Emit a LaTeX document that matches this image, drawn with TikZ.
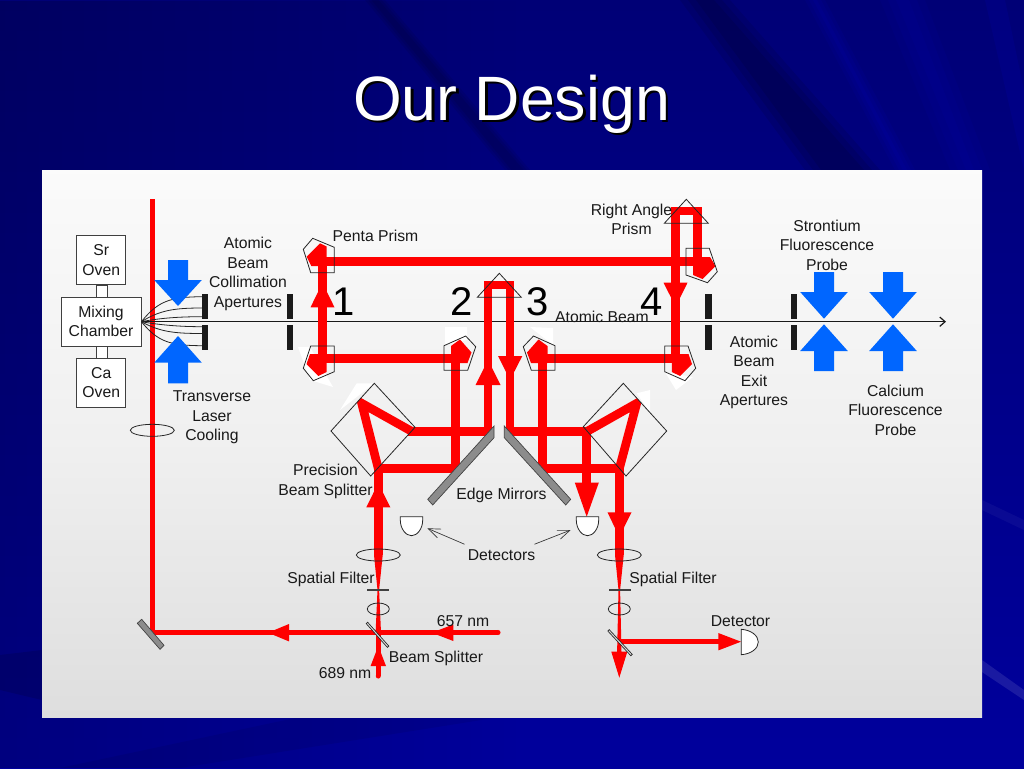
\documentclass[tikz,border=0pt]{standalone}
\usepackage{fontspec}
\setmainfont{Liberation Sans}
\usetikzlibrary{arrows.meta,fadings}
\definecolor{laserred}{RGB}{255,0,0}
\definecolor{probeblue}{RGB}{0,102,255}
\definecolor{slidetop}{RGB}{0,0,118}
\definecolor{slidebot}{RGB}{0,0,156}
\definecolor{apert}{RGB}{26,26,26}
\definecolor{mirrorgray}{RGB}{140,140,140}
\definecolor{edgegray}{RGB}{64,64,64}
\pgfdeclareverticalshading{slideshade}{100bp}{color(0bp)=(slidebot);color(25bp)=(slidebot);color(75bp)=(slidetop);color(100bp)=(slidetop)}
\pgfdeclareverticalshading{panelshade}{100bp}{color(0bp)=(black!14);color(21bp)=(black!14);color(50bp)=(black!6);color(85bp)=(white);color(100bp)=(white)}
\tikzset{
  lbl/.style={font=\fontsize{11.8}{14.6}\selectfont,align=center,inner sep=0pt,text=black!90},
  bignum/.style={font=\fontsize{30}{30}\selectfont,inner sep=0pt,text=black},
  boxnode/.style={draw=edgegray,line width=0.6pt,fill=white,inner sep=0pt,font=\fontsize{11.8}{14.6}\selectfont,align=center,text=black!90},
  beam/.style={draw=laserred,line width=6.5pt},
  thinbeam/.style={draw=laserred,line width=3.5pt},
  redfill/.style={fill=laserred,draw=none},
  blueprobe/.style={fill=probeblue,draw=none},
  prism/.style={draw=black!85,line width=0.6pt},
  lens/.style={draw=black!85,line width=0.6pt},
  aperture/.style={fill=apert,draw=none},
  mirror/.style={fill=mirrorgray,draw=edgegray,line width=0.5pt},
  detector/.style={fill=white,draw=black!85,line width=0.6pt},
  pointer/.style={draw=black!80,line width=0.5pt,-{Straight Barb[length=9pt,width=7pt]}},
  fanline/.style={draw=black!85,line width=0.6pt},
  glow/.style={fill=white,draw=none},
}
\begin{document}
\begin{tikzpicture}[x=0.75pt,y=-0.75pt]
\useasboundingbox (0,0) rectangle (1024,768);
% slide background
\shade[shading=slideshade] (0,0) rectangle (1024,768);
\fill[black,opacity=0.18,path fading=east] (0,0) rectangle (520,768);
\begin{scope}
\clip (0,0) rectangle (1024,768);
\foreach \d in {0,8,16}{
  \fill[black,opacity=0.09] (680+\d,0) -- (730-\d,0) -- (880-\d,170) -- (805+\d,170) -- cycle;
  \fill[black,opacity=0.07] (365+\d*0.4,0) -- (385-\d*0.4,0) -- (530-\d*0.4,170) -- (505+\d*0.4,170) -- cycle;
  \fill[blue,opacity=0.04] (880+\d,0) -- (925-\d,0) -- (990-\d,170) -- (950+\d,170) -- cycle;
  \fill[blue,opacity=0.05] (805+\d*0.5,0) -- (825-\d*0.5,0) -- (915-\d*0.5,170) -- (895+\d*0.5,170) -- cycle;
}
\fill[blue,opacity=0.08] (985,0) -- (1005,0) -- (1024,90) -- (1024,170) -- cycle;
\fill[black,opacity=0.12] (0,655) -- (42,650) -- (42,700) -- (0,690) -- cycle;
\fill[black,opacity=0.07] (60,768) -- (300,717) -- (500,717) -- (180,768) -- cycle;
\fill[white,opacity=0.10] (982,660) -- (1024,690) -- (1024,700) -- (982,672) -- cycle;
\fill[white,opacity=0.04] (982,500) -- (1024,520) -- (1024,530) -- (982,510) -- cycle;
\end{scope}
% title
\node[font=\fontsize{47}{50}\selectfont,text=black,inner sep=0pt] (titleshadow) at (514,106.5) {Our Design};
\node[font=\fontsize{47}{50}\selectfont,text=white,inner sep=0pt] (title) at (511.5,104) {Our Design};
% panel
\shade[shading=panelshade] (42,170) rectangle (982,717);
% pale patches left around the optics
\fill[glow] (356.7,383.3) -- (374.3,383.3) -- (340,410) -- cycle;
\fill[glow] (636.7,393.3) -- (650,390) -- (650,413) -- cycle;
\fill[glow] (298,347) -- (310,347) -- (333,387) -- (310,380) -- cycle;
\fill[glow] (665,372) -- (676,390) -- (693,377) -- cycle;
\fill[glow] (445,327) -- (467,327) -- (467,340) -- (445,345) -- cycle;
\fill[glow] (530,327) -- (553,328) -- (553,345) -- cycle;

% named way-points
\coordinate (coolTop) at (152.5,199);
\coordinate (coolCorner) at (152.5,632.5);
\coordinate (inRight) at (498,632.5);
\coordinate (inBottom) at (378.3,676);
\coordinate (bsIn) at (378.3,632.5);
\coordinate (lIn) at (378.3,555);
\coordinate (lA) at (378.3,468.7);
\coordinate (lApex) at (361.7,403.3);
\coordinate (lOut) at (420,436);
\coordinate (lOutH) at (408,431.7);
\coordinate (lM) at (488,431.7);
\coordinate (lMtop) at (488,285);
\coordinate (rMtop) at (510,285);
\coordinate (rM) at (510,431.7);
\coordinate (lP) at (455.5,468.7);
\coordinate (lP2) at (455.5,358.3);
\coordinate (pBL) at (322.5,358.3);
\coordinate (pTL) at (322.5,261.7);
\coordinate (pTR) at (700,261.7);
\coordinate (rTop1) at (675.7,211);
\coordinate (rTop2) at (697.3,211);
\coordinate (rTop3) at (697.3,262);
\coordinate (p4) at (675.7,358.3);
\coordinate (p3) at (542.5,358.3);
\coordinate (rP) at (542.5,468.7);
\coordinate (rB) at (619.3,468.7);
\coordinate (rOut) at (579,436);
\coordinate (rOutH) at (591,431.7);
\coordinate (rApex) at (636.7,403.3);
\coordinate (rDet) at (586.7,431.7);
\coordinate (rDetEnd) at (586.7,495);
\coordinate (rBEnd) at (619.3,555);
\coordinate (rSplit) at (619.3,641.7);
\coordinate (rDown) at (619.3,655);
\coordinate (rDetIn) at (722,641.7);

% first thin beam
\draw[thinbeam] (coolTop) -- (coolCorner);
% ovens, chamber, atomic beam and fan
\node[boxnode,minimum width=8.25pt,minimum height=9pt] (neckTop) at (101.8,291) {};
\node[boxnode,minimum width=8.25pt,minimum height=9pt] (neckBot) at (101.8,352) {};
\node[boxnode,minimum width=36.8pt,minimum height=36.8pt] (srOven) at (101.3,260.2) {Sr\\Oven};
\node[boxnode,minimum width=60pt,minimum height=36.8pt] (mix) at (101,321.6) {Mixing\\Chamber};
\node[boxnode,minimum width=36.8pt,minimum height=36.8pt] (caOven) at (101.3,382.5) {Ca\\Oven};
\coordinate (beamEnd) at (946,321.7);
\coordinate (fanO) at (mix.east |- beamEnd);
\draw[draw=black!90,line width=0.9pt,-{Straight Barb[length=4pt,width=7pt]}] (fanO) -- (beamEnd);
\coordinate (f1) at (202,296.7);
\coordinate (f2) at (202,308);
\coordinate (f3) at (202,316.7);
\coordinate (f5) at (202,326.7);
\coordinate (f6) at (202,333.5);
\coordinate (f7) at (202,345.7);
\draw[fanline] (fanO) .. controls (158,301) and (170,297) .. (f1);
\draw[fanline] (fanO) .. controls (160,310) and (175,308) .. (f2);
\draw[fanline] (fanO) .. controls (160,318) and (180,316.7) .. (f3);
\draw[fanline] (fanO) .. controls (160,325) and (180,326.7) .. (f5);
\draw[fanline] (fanO) .. controls (160,332) and (175,333.5) .. (f6);
\draw[fanline] (fanO) .. controls (158,342) and (170,345.5) .. (f7);

% apertures
\foreach \xa/\xb in {201.7/207.7,287/293.3,705.3/711.7,790.7/797}{
  \fill[aperture] (\xa,294) rectangle (\xb,319);
  \fill[aperture] (\xa,324.7) rectangle (\xb,350);
}

% thick beams
\begin{scope}
\clip (374.3,383.3) -- (415,427.3) -- (370.7,476) -- (331,431) -- cycle;
\draw[beam,miter limit=10] (lA) -- (lApex) -- (lOut);
\end{scope}
\begin{scope}
\clip (623.3,383.3) -- (666.7,431) -- (626,476) -- (583.3,426.7) -- cycle;
\draw[beam,miter limit=10] (rB) -- (rApex) -- (rOut);
\end{scope}
\draw[beam] (lIn) -- (lA) -- (lP);
\draw[beam] (lOutH) -- (lM) -- (lMtop) -- (rMtop) -- (rM) -- (rOutH);
\draw[beam] (rP) -- (rB) -- (rBEnd);
\draw[beam] (lP) -- (lP2) -- (pBL) -- (pTL) -- (pTR);
\draw[beam] (p3) -- (p4) -- (rTop1) -- (rTop2) -- (rTop3);
\draw[beam] (rP) -- (p3);
\draw[beam] (rDet) -- (rDetEnd);
% beam tapers through the spatial filters
\fill[redfill] (374,555) -- (382.7,555) -- (379.1,590) -- (381,632.5) -- (375.6,632.5) -- (377.5,590) -- cycle;
\fill[redfill] (615,555) -- (623.7,555) -- (620.1,590) -- (621.5,652) -- (617.1,652) -- (618.5,590) -- cycle;
% lower thin beams
\draw[thinbeam] (inRight) -- (coolCorner);
\draw[thinbeam] (inBottom) -- (bsIn);
\fill[laserred] (inRight) circle (1.9pt) (inBottom) circle (1.9pt);
\draw[thinbeam] (rSplit) -- (rDetIn);

% prism red interiors
\fill[redfill] (306.7,256.7) -- (320,243.3) -- (326.7,246.5) -- (326.7,266) -- (311.3,266) -- cycle;
\fill[redfill] (310,354) -- (326.7,354) -- (326.7,372) -- (318.3,376) -- (306.5,364) -- cycle;
\fill[redfill] (451,346) -- (460,339.5) -- (471.5,352.5) -- (467.5,363) -- (451,363) -- cycle;
\fill[redfill] (547.5,346) -- (538.5,339.5) -- (527,352.5) -- (531,363) -- (547.5,363) -- cycle;
\fill[redfill] (688.5,354) -- (671.8,354) -- (671.8,372) -- (680.2,376) -- (692,364) -- cycle;
\fill[redfill] (693,257) -- (710,257) -- (715.5,266) -- (702.5,279) -- (693,275) -- cycle;

% red arrowheads
\fill[redfill] (322.5,283) -- (334.5,307.3) -- (310.5,307.3) -- cycle;
\fill[redfill] (488,360) -- (500.5,385) -- (475.5,385) -- cycle;
\fill[redfill] (510,380) -- (522.3,356) -- (498,356) -- cycle;
\fill[redfill] (675.7,306.7) -- (687.5,282.7) -- (663.5,282.7) -- cycle;
\fill[redfill] (378.3,483) -- (390.3,507.3) -- (366.3,507.3) -- cycle;
\fill[redfill] (586.7,516.7) -- (598.8,482.7) -- (574.8,482.7) -- cycle;
\fill[redfill] (619.3,537) -- (631.5,512.3) -- (607.5,512.3) -- cycle;
\fill[redfill] (268,632.7) -- (289,624) -- (289,641.4) -- cycle;
\fill[redfill] (431.7,632.7) -- (453.3,624.5) -- (453.3,641) -- cycle;
\fill[redfill] (378.3,646) -- (386,666) -- (370.6,666) -- cycle;
\fill[redfill] (619.3,677.7) -- (627.3,651.7) -- (611.3,651.7) -- cycle;
\fill[redfill] (741,641.7) -- (718.3,633) -- (718.3,650.4) -- cycle;

% prisms
\draw[prism] (312.7,238.3) -- (303.3,249.3) -- (310.7,272.7) -- (334.3,272.7) -- (334.3,247.3) -- cycle;
\draw[prism] (310.7,346) -- (334.3,346) -- (334.3,371.7) -- (313.3,380.7) -- (303.3,368.3) -- cycle;
\draw[prism] (444,345.7) -- (465.7,336) -- (475.7,346.7) -- (467.7,370.3) -- (444,370.3) -- cycle;
\draw[prism] (523.3,346.7) -- (533.5,336) -- (555,345.7) -- (555,370.3) -- (531.3,370.3) -- cycle;
\draw[prism] (664.7,346) -- (688,346) -- (695.7,368.3) -- (685,380.7) -- (664.7,371.7) -- cycle;
\draw[prism] (686,248.3) -- (709.3,248.3) -- (717.3,271.7) -- (707.5,282.7) -- (686,275) -- cycle;
\draw[prism] (499.3,273.3) -- (477.3,297.3) -- (521.3,297.3) -- cycle;
\draw[prism] (686.3,199.3) -- (664.3,223.3) -- (708.3,223.3) -- cycle;
\draw[prism] (374.3,383.3) -- (415,427.3) -- (370.7,476) -- (331,431) -- cycle;
\draw[prism] (623.3,383.3) -- (666.7,431) -- (626,476) -- (583.3,426.7) -- cycle;

% mirrors
\draw[mirror] (494,426) -- (494,437.7) -- (432.7,505) -- (427.7,499.3) -- cycle;
\draw[mirror] (504.3,426) -- (504.3,437.7) -- (565.7,505) -- (570.7,499.3) -- cycle;
\draw[mirror] (137.3,623.3) -- (141.7,619.3) -- (164,645.3) -- (160,649.3) -- cycle;
\draw[draw=black!85,fill=black!15,line width=0.5pt] (366.2,623.6) -- (367.6,622.2) -- (388.8,646) -- (387.4,647.4) -- cycle;
\draw[draw=black!85,fill=black!15,line width=0.5pt] (607.8,631) -- (609.2,629.6) -- (632.3,654.4) -- (630.9,655.8) -- cycle;

% lenses and pinholes
\draw[lens] (152.3,430.3) ellipse (22 and 6);
\draw[lens] (378.3,555) ellipse (22 and 6);
\draw[lens] (619.3,555) ellipse (22 and 6);
\draw[lens] (378.3,609) ellipse (11 and 6);
\draw[lens] (619.3,609) ellipse (11 and 6);
\draw[draw=edgegray,line width=1pt] (367.3,590) -- (388.7,590);
\draw[draw=edgegray,line width=1pt] (609.3,590) -- (630.7,590);

% detectors
\draw[detector] (400.3,516.7) -- (422.7,516.7) -- (422.7,520) .. controls (422.7,529) and (417,535.7) .. (411.5,535.7) .. controls (406,535.7) and (400.3,529) .. (400.3,520) -- cycle;
\draw[detector] (576.3,516.7) -- (598.7,516.7) -- (598.7,520) .. controls (598.7,529) and (593,535.7) .. (587.5,535.7) .. controls (582,535.7) and (576.3,529) .. (576.3,520) -- cycle;
\draw[detector] (741.3,629.3) .. controls (751,630) and (758.3,635.5) .. (758.3,642) .. controls (758.3,648.5) and (751,654) .. (741.3,654.7) -- cycle;

% blue probes
\foreach \cx/\tipA/\baseA/\endA/\tipB/\baseB/\endB in {178/306/280/260/336/362.7/383.3,824/318.7/292/272/324.3/351/371,893/318.7/292/272/324.3/351/371}{
  \fill[blueprobe] (\cx,\tipA) -- (\cx+23.8,\baseA) -- (\cx+10,\baseA) -- (\cx+10,\endA) -- (\cx-10,\endA) -- (\cx-10,\baseA) -- (\cx-23.8,\baseA) -- cycle;
  \fill[blueprobe] (\cx,\tipB) -- (\cx+23.8,\baseB) -- (\cx+10,\baseB) -- (\cx+10,\endB) -- (\cx-10,\endB) -- (\cx-10,\baseB) -- (\cx-23.8,\baseB) -- cycle;
}

% labels
\node[lbl] (tCollim) at (248,274) {Atomic\\Beam\\Collimation\\Apertures};
\node[lbl] (tPenta) at (375.5,236) {Penta Prism};
\node[lbl] (tRight) at (631.5,219.5) {Right Angle\\Prism};
\node[bignum] (n1) at (344,302) {1};
\node[bignum] (n2) at (462,302) {2};
\node[bignum] (n3) at (538,302) {3};
\node[bignum] (n4) at (652,302) {4};
\node[lbl] (tBeam) at (602,316.5) {Atomic Beam};
\node[lbl] (tSr) at (827,245) {Strontium\\Fluorescence\\Probe};
\node[lbl] (tExit) at (754,372.5) {Atomic\\Beam\\Exit\\Apertures};
\node[lbl] (tCa) at (895.5,410) {Calcium\\Fluorescence\\Probe};
\node[lbl] (tTrans) at (212,417.5) {Transverse\\Laser\\Cooling};
\node[lbl] (tPrec) at (325.5,481.5) {Precision\\Beam Splitter};
\node[lbl] (tEdge) at (501.5,495) {Edge Mirrors};
\node[lbl] (tDets) at (501.5,555) {Detectors};
\node[lbl] (tSF1) at (331,579) {Spatial Filter};
\node[lbl] (tSF2) at (673,579) {Spatial Filter};
\node[lbl] (t657) at (463,621) {657 nm};
\node[lbl] (tBS) at (436,658) {Beam Splitter};
\node[lbl] (t689) at (345,673) {689 nm};
\node[lbl] (tDet) at (740.5,621) {Detector};
% detector pointers
\coordinate (dL) at (427.3,528.3);
\coordinate (dR) at (570.7,530);
\draw[pointer] (tDets.north west)++(-3,-5) -- (dL);
\draw[pointer] (tDets.north east)++(-1,-5) -- (dR);
\end{tikzpicture}
\end{document}
